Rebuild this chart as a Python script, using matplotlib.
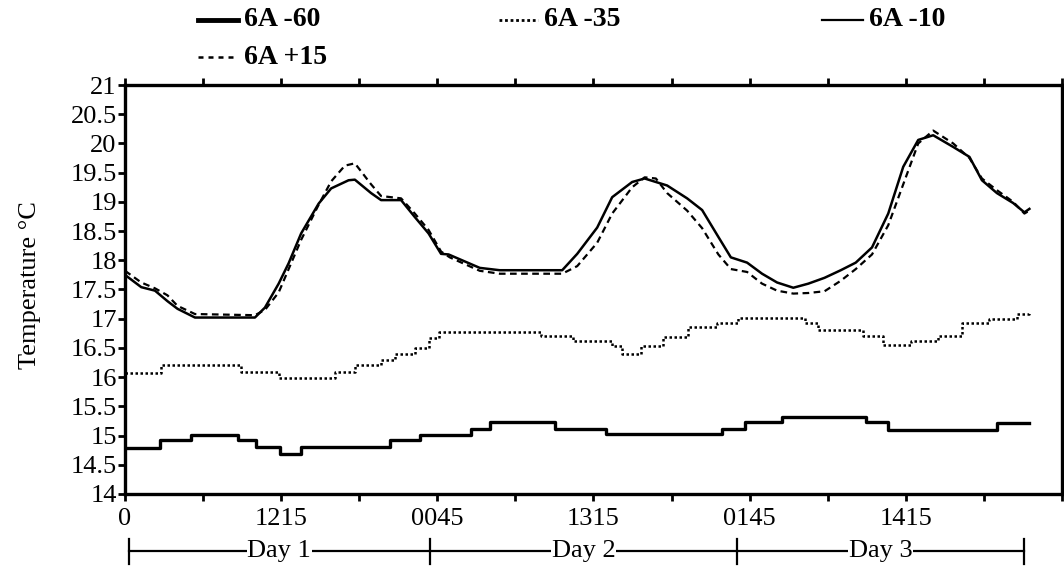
"""
Hourly water temperature at four depths (6A -60 ... 6A +15) over three days.
Recreated from a scanned figure.
"""
import matplotlib
matplotlib.use("Agg")
import matplotlib.pyplot as plt
from matplotlib.lines import Line2D

plt.rcParams['font.family'] = ['Liberation Serif', 'DejaVu Serif']

# elapsed hours / temperature (deg C)
hrs_m60 = [0, 2.8, 5.3, 9.05, 10.5, 12.4, 14.1, 21.2, 23.6, 27.7, 29.2, 34.4,
           38.5, 47.8, 49.6, 52.6, 59.3, 61.1, 69.8, 72.4]
t_m60 = [14.78, 14.92, 15.01, 14.92, 14.80, 14.68, 14.80, 14.92, 15.01, 15.12,
         15.24, 15.12, 15.03, 15.12, 15.24, 15.31, 15.24, 15.10, 15.22, 15.22]

hrs_m35 = [0, 2.9, 9.3, 12.3, 16.8, 18.4, 20.5, 21.6, 23.2, 24.3, 25.1, 33.3,
           35.9, 39.0, 39.8, 41.3, 43.1, 45.1, 47.4, 49.1, 54.4, 55.5, 59.1,
           60.7, 62.9, 65.1, 67.0, 69.2, 71.4, 72.4]
t_m35 = [16.07, 16.21, 16.08, 15.99, 16.08, 16.21, 16.30, 16.39, 16.50, 16.67,
         16.78, 16.70, 16.61, 16.54, 16.40, 16.54, 16.68, 16.85, 16.92, 17.01,
         16.92, 16.80, 16.70, 16.55, 16.61, 16.71, 16.92, 17.00, 17.08, 17.10]

hrs_m10 = [0, 1.3, 2.4, 3.4, 4.2, 5.6, 10.4, 11.2, 12.3, 13.1, 14.1, 15.5,
           16.5, 17.9, 18.4, 19.7, 20.5, 22.1, 23.2, 24.3, 25.3, 25.9, 28.4,
           30.0, 35.0, 36.2, 37.8, 39.0, 40.6, 41.6, 43.4, 45.0, 46.2, 47.5,
           48.5, 49.8, 51.0, 52.2, 53.5, 54.7, 56.0, 57.3, 58.5, 59.8, 61.1,
           62.3, 63.5, 64.7, 66.3, 67.6, 68.6, 69.8, 71.1, 72.0, 72.4]
t_m10 = [17.75, 17.54, 17.48, 17.30, 17.17, 17.02, 17.02, 17.19, 17.60, 17.95,
         18.46, 18.97, 19.23, 19.37, 19.38, 19.15, 19.03, 19.03, 18.74, 18.46,
         18.11, 18.10, 17.87, 17.83, 17.83, 18.11, 18.56, 19.08, 19.34, 19.40,
         19.28, 19.06, 18.86, 18.40, 18.05, 17.96, 17.77, 17.62, 17.53, 17.60,
         17.70, 17.83, 17.96, 18.22, 18.80, 19.60, 20.06, 20.14, 19.94, 19.77,
         19.37, 19.15, 18.98, 18.82, 18.88]

hrs_p15 = [0, 1.3, 2.4, 3.4, 4.2, 5.6, 10.4, 11.2, 12.3, 13.1, 14.1, 15.5,
           16.5, 17.6, 18.4, 19.7, 20.5, 22.1, 23.2, 24.3, 25.3, 26.0, 28.4,
           30.0, 35.0, 36.2, 37.8, 39.0, 40.6, 41.6, 42.5, 43.4, 45.0, 46.2,
           47.5, 48.5, 49.8, 51.0, 52.2, 53.5, 54.7, 56.0, 57.3, 58.5, 59.8,
           61.1, 62.3, 63.5, 64.7, 66.3, 67.6, 68.6, 69.8, 71.1, 72.0, 72.4]
t_p15 = [17.82, 17.62, 17.52, 17.40, 17.22, 17.08, 17.06, 17.15, 17.45, 17.85,
         18.35, 18.95, 19.35, 19.62, 19.66, 19.30, 19.10, 19.06, 18.80, 18.52,
         18.15, 18.05, 17.82, 17.77, 17.77, 17.90, 18.30, 18.80, 19.25, 19.42,
         19.40, 19.15, 18.85, 18.55, 18.10, 17.85, 17.80, 17.60, 17.48, 17.43,
         17.44, 17.47, 17.65, 17.85, 18.10, 18.60, 19.30, 20.00, 20.22, 20.00,
         19.75, 19.40, 19.20, 19.00, 18.80, 18.85]

xtick_pos = [0, 12.5, 25, 37.5, 50, 62.5, 75]
xtick_lbl = ['0', '1215', '0045', '1315', '0145', '1415', '']
ytick_pos = [14, 14.5, 15, 15.5, 16, 16.5, 17, 17.5, 18, 18.5, 19, 19.5, 20, 20.5, 21]
ytick_lbl = ['14', '14.5', '15', '15.5', '16', '16.5', '17', '17.5', '18',
             '18.5', '19', '19.5', '20', '20.5', '21']
day_edges = [0.3, 24.4, 49.0, 72.0]
day_names = ['Day 1', 'Day 2', 'Day 3']

fig = plt.figure(figsize=(10.64, 5.76), dpi=100)
ax = fig.add_axes([0.1175, 0.1424, 0.8805, 0.71])

ax.step(hrs_m60, t_m60, where='post', color='black', lw=2.4)
ax.step(hrs_m35, t_m35, where='post', color='black', lw=1.8, ls=(0, (1, 1)))
ax.plot(hrs_m10, t_m10, color='black', lw=1.8)
ax.plot(hrs_p15, t_p15, color='black', lw=1.6, ls=(0, (3, 2)))

ax.set_xlim(0, 75)
ax.set_ylim(14, 21)
ax.set_xticks(xtick_pos)
ax.set_xticklabels(xtick_lbl, fontsize=19)
ax.set_xticks([6.25 + 12.5 * i for i in range(6)], minor=True)
ax.set_yticks(ytick_pos)
ax.set_yticklabels(ytick_lbl, fontsize=19)
ax.tick_params(axis='x', which='both', direction='out', top=True, length=5,
               width=2, pad=5)
ax.tick_params(axis='y', direction='out', length=5, width=2, pad=1)
for sp in ax.spines.values():
    sp.set_linewidth(2.4)

fig.text(30 / 1064, 1 - 285 / 576, 'Temperature °C', rotation=90,
         ha='center', va='center', fontsize=19)

# day bracket under the axis
tr = ax.get_xaxis_transform()
yb = -0.14
ax.plot([day_edges[0], day_edges[-1]], [yb, yb], color='black', lw=1.6,
        transform=tr, clip_on=False)
for xe in day_edges:
    ax.plot([xe, xe], [yb - 0.03, yb + 0.03], color='black', lw=1.6,
            transform=tr, clip_on=False)
for i, name in enumerate(day_names):
    xm = (day_edges[i] + day_edges[i + 1]) / 2
    ax.text(xm, yb, name, transform=tr, ha='center', va='center', fontsize=19,
            bbox=dict(facecolor='white', edgecolor='none', pad=0.5))

# legend drawn by hand, as in the scan
leg = [
    (198, 238, 20, dict(lw=3.5), '6A -60'),
    (499, 538, 20, dict(lw=2.0, ls=(0, (1, 1))), '6A -35'),
    (822, 863, 20, dict(lw=1.6), '6A -10'),
    (198, 238, 57, dict(lw=1.8, ls=(0, (2, 2))), '6A +15'),
]
for x0, x1, yy, kw, lab in leg:
    fy = 1 - yy / 576
    fig.add_artist(Line2D([x0 / 1064, x1 / 1064], [fy, fy], color='black',
                          transform=fig.transFigure, **kw))
    fig.text((x1 + 6) / 1064, fy, lab, ha='left', va='center', fontsize=20,
             fontweight='bold')

fig.savefig('out.png', dpi=100)
